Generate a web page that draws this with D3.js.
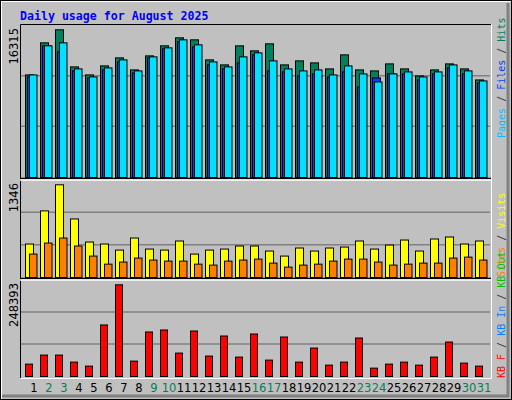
<!DOCTYPE html>
<html><head><meta charset="utf-8">
<script src="https://cdn.jsdelivr.net/npm/d3@7"></script>
<style>body{margin:0;background:#fff}</style></head>
<body><svg id="c" width="512" height="400"></svg>
<script>
const days = d3.range(1, 32).map(String);
const weekend = ["2","3","9","10","16","17","23","24","30","31"];
const hits  = [11331,14875,16315,12217,11331,12328,13214,11885,13435,14543,15429,15207,12993,12439,14543,13989,14764,12439,12882,12660,11996,13546,11885,11774,12549,11996,11221,11885,12549,11996,10778];
const files = [11110,14543,13878,11774,10999,11885,12771,11553,13214,14210,14985,14432,12439,11996,12660,13546,11774,11664,11221,11442,11110,11664,10003,10999,11442,11442,10778,11442,12107,11442,10446];
const pages = [11331,14543,14875,11996,11110,12107,12993,11774,13325,14321,15207,14653,12771,12217,13325,13768,12882,11996,11774,11885,11331,12328,11442,10556,11442,11664,11110,11664,12439,11774,10667];
const visits = [486,967,1346,850,515,486,398,573,413,398,530,340,398,413,457,457,384,311,428,384,428,442,530,413,471,544,384,559,588,486,530];
const sites = [340,500,573,457,311,194,224,282,253,238,238,194,180,238,253,267,209,151,180,194,238,267,267,224,180,194,209,209,282,296,253];
const kbytes = [33541,58016,58016,38980,28102,139601,248393,41699,120565,126004,63455,123284,55297,109687,52577,115126,44419,106967,38980,77053,30821,38980,104248,22663,33541,38980,30821,52577,93370,36260,28102];
const maxLabels = ["16315","1346","248393"];

const svg = d3.select("#c");
svg.append("rect").attr("width",512).attr("height",400).attr("fill","#c0c0c0");
// bevel
svg.append("path").attr("d","M1,399V1H511").attr("stroke","#fff").attr("stroke-width",2).attr("fill","none");
svg.append("path").attr("d","M2,396H508V3").attr("stroke","#808080").attr("stroke-width",3).attr("fill","none");
svg.append("rect").attr("x",0.5).attr("y",0.5).attr("width",511).attr("height",399).attr("fill","none").attr("stroke","#000");

svg.append("text").attr("x",20).attr("y",20).text("Daily usage for August 2025")
  .attr("font-family","DejaVu Sans Mono").attr("font-weight","bold").attr("font-size",11.6).attr("fill","#0000ff");

const x = d3.scaleBand().domain(days).range([25,490]).paddingInner(0).paddingOuter(0);
const panels = [
  {top:25,bot:177,max:16315,y0:29.3},
  {top:180,bot:277,max:1346,y0:184.3},
  {top:280,bot:376,max:248393,y0:284.3}
];
panels.forEach((p,i)=>{
  p.y = d3.scaleLinear().domain([0,p.max]).range([p.bot,p.y0]);
  const h = p.bot - p.top;
  [1,2].forEach(k=>{
    svg.append("line").attr("x1",21).attr("x2",490).attr("y1",p.bot-h*k/3).attr("y2",p.bot-h*k/3)
      .attr("stroke","#808080").attr("stroke-width",1.5);
  });
  svg.append("text").attr("transform",`translate(18,${p.top+3}) rotate(-90)`).attr("text-anchor","end")
    .attr("font-family","DejaVu Sans").attr("font-size",11.5).attr("fill","#000").text(maxLabels[i]);
});
// panel frames
svg.append("path").attr("d","M20.5,378V24.5H491").attr("stroke","#000").attr("fill","none");
svg.append("path").attr("d","M20.5,378.5H491.5V24").attr("stroke","#fff").attr("fill","none");
[178.5,278.5].forEach(yv=>{
  svg.append("line").attr("x1",20).attr("x2",491).attr("y1",yv).attr("y2",yv).attr("stroke","#000").attr("stroke-width",1.5);
  svg.append("line").attr("x1",20).attr("x2",491).attr("y1",yv+1.5).attr("y2",yv+1.5).attr("stroke","#fff").attr("stroke-width",1.5);
});

function bars(data, p, off, w, color){
  svg.append("g").selectAll("rect").data(data).join("rect")
    .attr("x",(d,i)=>x(days[i])+off+0.5).attr("width",w)
    .attr("y",d=>p.y(d)+0.5).attr("height",d=>p.bot-p.y(d))
    .attr("fill",color).attr("stroke","#000").attr("stroke-width",1);
}
bars(hits, panels[0], 0, 8, "#00805c");
bars(files, panels[0], 2, 8, "#0040ff");
bars(pages, panels[0], 4, 7.5, "#00e0ff");
bars(visits, panels[1], 0, 8, "#ffff00");
bars(sites, panels[1], 4, 7.5, "#ff8000");
bars(kbytes, panels[2], 0, 7, "#ff0000");

svg.append("g").selectAll("text").data(days).join("text")
  .attr("x",d=>x(d)+9).attr("y",392).attr("text-anchor","middle")
  .attr("font-family","DejaVu Sans").attr("font-size",11.5)
  .attr("fill",d=>weekend.includes(d)?"#00805c":"#000").text(d=>d);

function legend(yStart, parts){
  const t = svg.append("text").attr("transform",`translate(505,${yStart}) rotate(-90)`)
    .attr("font-family","DejaVu Sans Mono").attr("font-size",10);
  parts.forEach(([s,c])=>t.append("tspan").attr("fill",c).text(s));
}
legend(138,[["Pages","#00c0ff"],[" / ","#404040"],["Files","#0040ff"],[" / ","#404040"],["Hits","#00805c"]]);
legend(277,[["Sites","#ff8000"],[" / ","#404040"],["Visits","#ffff00"]]);
legend(378,[["KB F","#ff0000"],[" / ","#404040"],["KB In","#0080ff"],[" / ","#404040"],["KB Out","#00c000"]]);
</script></body></html>
